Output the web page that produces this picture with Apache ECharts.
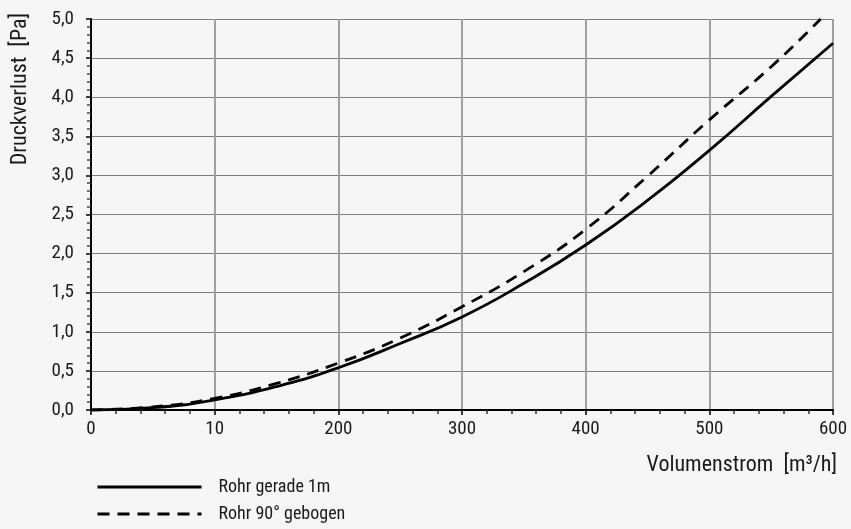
<!DOCTYPE html>
<html lang="de">
<head>
	<meta charset="UTF-8">
	<title>Druckverlust</title>
	<script src="https://cdn.jsdelivr.net/npm/echarts@6/dist/echarts.min.js"></script>
	<style>
		body { margin: 0; background: #f6f6f6; }
	</style>
</head>
<body>
	<div id="main" style="width: 851px; height: 529px;"></div>
	<script>
		// Volumenstrom [m³/h]
		var flowGerade = [0, 50, 100, 150, 200, 250, 300, 350, 400, 450, 500, 550, 600]
		var flowBogen = [0, 50, 100, 150, 200, 250, 300, 350, 400, 450, 500, 550, 590]
		// Druckverlust [Pa]
		var lossGerade = [0, 0.03, 0.13, 0.30, 0.54, 0.85, 1.19, 1.62, 2.11, 2.68, 3.32, 4.01, 4.69]
		var lossBogen = [0, 0.04, 0.15, 0.34, 0.60, 0.92, 1.32, 1.77, 2.31, 2.99, 3.71, 4.39, 5.0]

		// Achsenbeschriftung wie im Original (inkl. "10")
		var xTickLabels = ['0', '10', '200', '300', '400', '500', '600']
		var yTickLabels = ['0,0', '0,5', '1,0', '1,5', '2,0', '2,5', '3,0', '3,5', '4,0', '4,5', '5,0']

		var seriesNames = ['Rohr gerade 1m', 'Rohr 90° gebogen']

		function pairs(xs, ys) {
			var out = []
			for (var i = 0; i < xs.length; i++) {
				out.push([xs[i], ys[i]])
			}
			return out
		}

		var font = "'Liberation Sans Narrow', 'Roboto Condensed', 'Liberation Sans', sans-serif"

		var myChart = echarts.init(document.getElementById('main'))

		var option = {
			backgroundColor: '#f6f6f6',
			textStyle: { fontFamily: font },
			animation: false,
			grid: { left: 91, right: 18, top: 19, bottom: 119 },
			legend: {
				orient: 'vertical',
				left: 96,
				top: 478,
				height: 60,
				padding: 0,
				itemWidth: 104,
				itemHeight: 14,
				itemGap: 9,
				data: seriesNames,
				itemStyle: { opacity: 0 },
				lineStyle: { width: 3 },
				textStyle: { fontSize: 18, color: '#1a1a1a', fontFamily: font, padding: [0, 0, 0, 12] }
			},
			graphic: [
				{
					type: 'text',
					left: 9,
					top: 13,
					rotation: Math.PI / 2,
					style: { text: 'Druckverlust  [Pa]', fontSize: 22, fontFamily: font, fill: '#1a1a1a' }
				},
				{
					type: 'text',
					right: 14,
					top: 454,
					style: { text: 'Volumenstrom  [m³/h]', fontSize: 22, fontFamily: font, fill: '#1a1a1a' }
				}
			],
			xAxis: {
				type: 'value',
				min: 0,
				max: 600,
				interval: 100,
				axisLine: { onZero: false, lineStyle: { color: '#000', width: 2 } },
				axisTick: { show: true, length: 5, lineStyle: { color: '#000', width: 1.5 } },
				minorTick: { show: true, splitNumber: 5, length: 4, lineStyle: { color: '#333', width: 1.5 } },
				splitLine: { show: true, lineStyle: { color: '#9f9f9f', width: 2 } },
				axisLabel: {
					margin: 10,
					fontSize: 19,
					color: '#1a1a1a',
					fontFamily: font,
					formatter: function (v) { return xTickLabels[Math.round(v / 100)] }
				}
			},
			yAxis: {
				type: 'value',
				min: 0,
				max: 5,
				interval: 0.5,
				axisLine: { show: true, onZero: false, lineStyle: { color: '#000', width: 2 } },
				axisTick: { show: true, length: 5, lineStyle: { color: '#000', width: 1.5 } },
				minorTick: { show: true, splitNumber: 5, length: 4, lineStyle: { color: '#444', width: 1.5 } },
				splitLine: { show: true, lineStyle: { color: '#7f7f7f', width: 1.2 } },
				axisLabel: {
					margin: 17,
					fontSize: 19,
					color: '#1a1a1a',
					fontFamily: font,
					formatter: function (v) { return yTickLabels[Math.round(v * 2)] }
				}
			},
			series: [
				{
					name: seriesNames[0],
					type: 'line',
					data: pairs(flowGerade, lossGerade),
					smooth: true,
					symbol: 'none',
					color: '#000',
					lineStyle: { color: '#000', width: 2.8 }
				},
				{
					name: seriesNames[1],
					type: 'line',
					data: pairs(flowBogen, lossBogen),
					smooth: true,
					symbol: 'none',
					color: '#000',
					lineStyle: { color: '#000', width: 2.8, type: [12, 8] }
				}
			]
		}
		myChart.setOption(option)
	</script>
</body>
</html>
